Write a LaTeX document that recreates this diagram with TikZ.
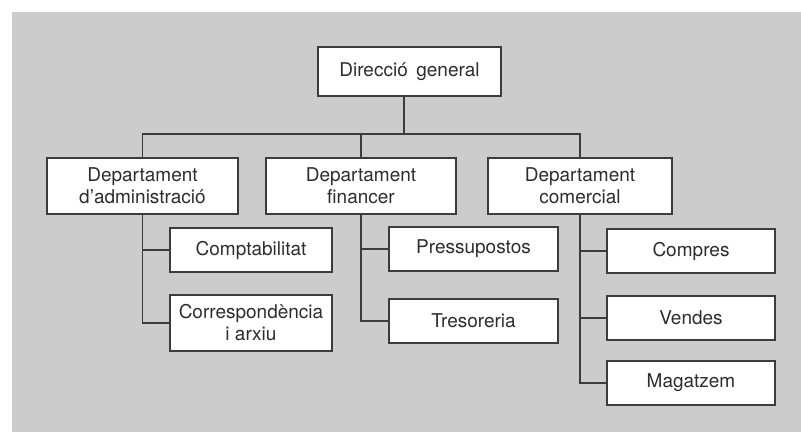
\documentclass[tikz,border=0pt]{standalone}
\usepackage{fontspec}
\setmainfont{TeX Gyre Heros}
\definecolor{bg}{RGB}{204,204,204}
\definecolor{ln}{RGB}{60,60,60}
\definecolor{tx}{RGB}{45,45,45}
\begin{document}
\begin{tikzpicture}[x=1pt,y=-1pt,
  box/.style={draw=ln, line width=1.2pt, fill=white, text=tx, align=center,
    inner sep=0pt, font=\fontsize{19}{22}\selectfont},
  conn/.style={draw=ln, line width=1.2pt}]
\useasboundingbox (0,0) rectangle (801,432);
\fill[bg] (12,12) rectangle (801,432);
% nodes
\node[box, minimum width=183pt, minimum height=49pt] (dg) at (409.5,71.5) {Direcció\hspace{0.45em}general};
\node[box, minimum width=191pt, minimum height=56pt] (adm) at (142.5,186) {Departament\\d’administració};
\node[box, minimum width=190pt, minimum height=56pt] (fin) at (361,186) {Departament\\financer};
\node[box, minimum width=184pt, minimum height=56pt] (com) at (580,186) {Departament\\comercial};
\node[box, minimum width=162pt, minimum height=44pt] (cmp) at (251,250) {Comptabilitat};
\node[box, minimum width=162pt, minimum height=56pt] (cor) at (251,323) {Correspondència\\i arxiu};
\node[box, minimum width=169pt, minimum height=44pt] (pre) at (473.5,249) {Pressupostos};
\node[box, minimum width=169pt, minimum height=44pt] (tre) at (473.5,321) {Tresoreria};
\node[box, minimum width=168pt, minimum height=44pt] (cpr) at (691,251) {Compres};
\node[box, minimum width=168pt, minimum height=44pt] (ven) at (691,318) {Vendes};
\node[box, minimum width=168pt, minimum height=44pt] (mag) at (691,383) {Magatzem};
% connectors
\coordinate (bus) at (404,134);
\draw[conn] (dg.south -| bus) -- (bus);
\draw[conn] (adm.north) -- (adm.north |- bus) -- (com.north |- bus) -- (com.north);
\draw[conn] (fin.north) -- (fin.north |- bus);
\draw[conn] (adm.south) |- (cor.west);
\draw[conn] (adm.south |- cmp.west) -- (cmp.west);
\draw[conn] (fin.south) |- (tre.west);
\draw[conn] (fin.south |- pre.west) -- (pre.west);
\draw[conn] (com.south) |- (mag.west);
\draw[conn] (com.south |- cpr.west) -- (cpr.west);
\draw[conn] (com.south |- ven.west) -- (ven.west);
\end{tikzpicture}
\end{document}
